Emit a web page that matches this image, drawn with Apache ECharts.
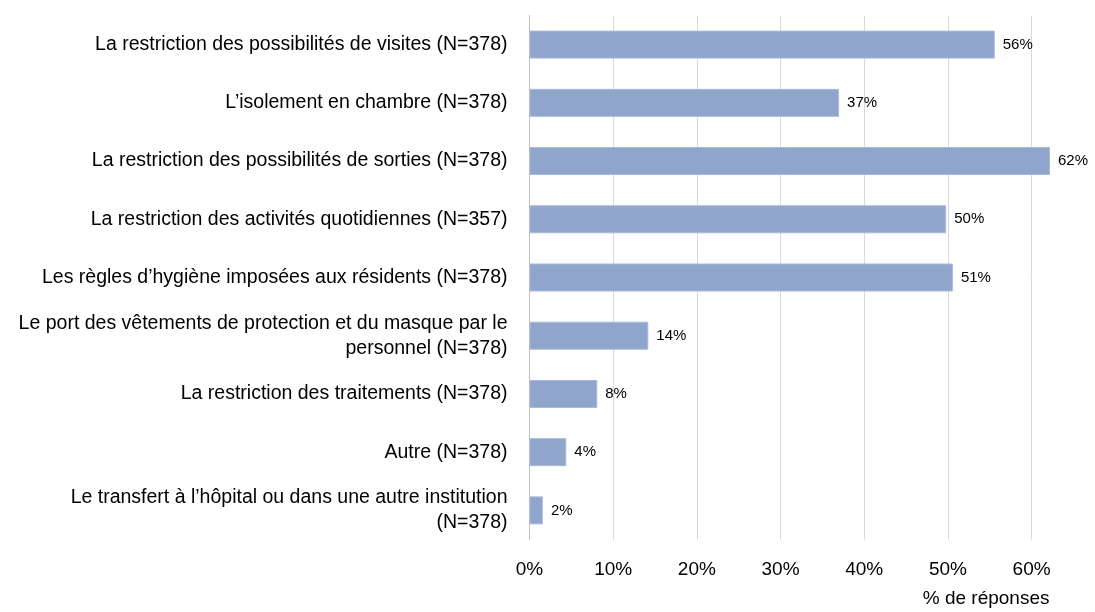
<!DOCTYPE html>
<html>
<head>
<meta charset="utf-8">
<script src="https://cdn.jsdelivr.net/npm/echarts@6/dist/echarts.min.js"></script>
<style>
  html, body { margin: 0; padding: 0; background: #fff; }
  #chart { width: 1095px; height: 612px; }
</style>
</head>
<body>
<div id="chart"></div>
<script>
// categories, top to bottom
var categories = [
    'La restriction des possibilités de visites (N=378)',
    'L\u2019isolement en chambre (N=378)',
    'La restriction des possibilités de sorties (N=378)',
    'La restriction des activités quotidiennes (N=357)',
    'Les règles d\u2019hygiène imposées aux résidents (N=378)',
    'Le port des vêtements de protection et du masque par le\npersonnel (N=378)',
    'La restriction des traitements (N=378)',
    'Autre (N=378)',
    'Le transfert à l\u2019hôpital ou dans une autre institution\n(N=378)'
];
// % de réponses
var values = [55.6, 37, 62.2, 49.8, 50.6, 14.2, 8.1, 4.4, 1.6];
var xTicks = [0, 10, 20, 30, 40, 50, 60];

var myChart = echarts.init(document.getElementById('chart'));

var option = {
    animation: false,
    textStyle: { fontFamily: 'Liberation Sans, Arial, sans-serif' },
    grid: {
        left: 529.5,
        right: 42.5,
        top: 15.5,
        bottom: 72.5
    },
    xAxis: {
        type: 'value',
        min: 0,
        max: 62.5,
        interval: 10,
        name: '% de réponses',
        nameLocation: 'end',
        nameGap: 0,
        nameTextStyle: {
            color: '#000', fontSize: 19,
            align: 'right', verticalAlign: 'top',
            padding: [50, 3, 0, 0]
        },
        axisLine: { show: false },
        axisTick: { show: false },
        axisLabel: {
            color: '#000', fontSize: 19, margin: 21,
            showMaxLabel: false,
            formatter: function (v) {
                return xTicks.indexOf(v) >= 0 ? v + '%' : '';
            }
        },
        splitLine: { showMaxLine: false, lineStyle: { color: '#d9d9d9', width: 1 } }
    },
    yAxis: {
        type: 'category',
        inverse: true,
        data: categories,
        axisLine: { lineStyle: { color: '#bfbfbf' } },
        axisTick: { show: false },
        axisLabel: {
            color: '#000', fontSize: 19.5, margin: 22, lineHeight: 25, align: 'right'
        }
    },
    series: [
        {
            type: 'bar',
            data: values,
            barWidth: 28,
            itemStyle: { color: '#8fa5cc', borderColor: '#a9bbda', borderWidth: 1 },
            label: {
                show: true,
                position: 'right',
                distance: 8,
                color: '#000',
                fontSize: 15,
                formatter: function (p) { return Math.round(p.value) + '%'; }
            }
        }
    ]
};

myChart.setOption(option);
</script>
</body>
</html>
